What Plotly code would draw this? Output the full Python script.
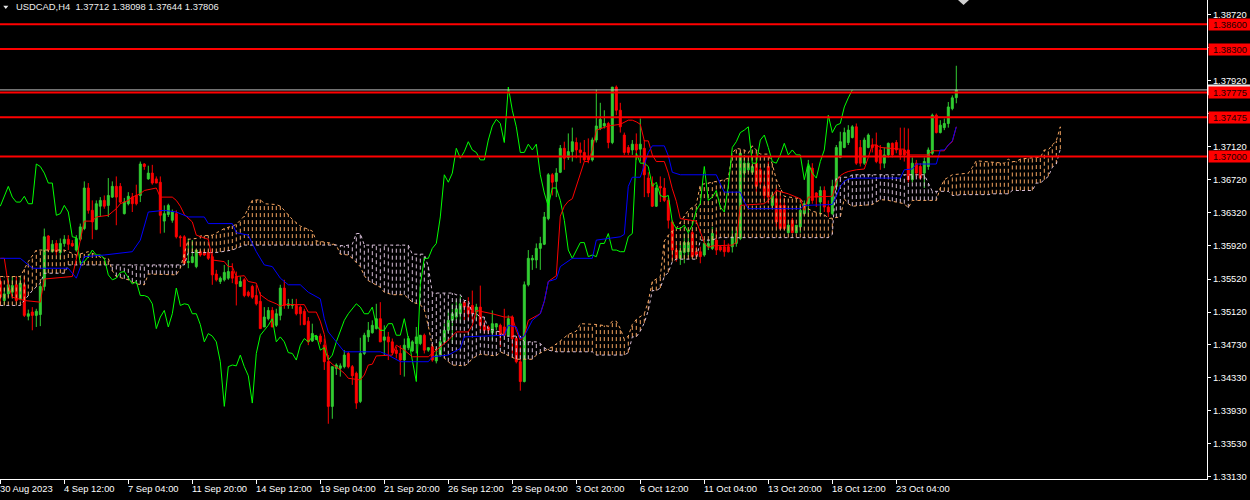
import numpy as np
import plotly.graph_objects as go

# ---------------- data (USDCAD H4) ----------------
opens = [1.3549,1.3526,1.3534,1.3536,1.3545,1.3528,1.3545,1.3507,1.3512,1.3508,
1.3509,1.3543,1.3604,1.3585,1.3595,1.3584,1.3595,1.3600,1.3595,1.3587,
1.3600,1.3613,1.3662,1.3635,1.3612,1.3640,1.3647,1.3641,1.3651,1.3664,
1.3664,1.3631,1.3643,1.3651,1.3653,1.3653,1.3691,1.3673,1.3680,1.3673,
1.3669,1.3622,1.3630,1.3623,1.3631,1.3603,1.3603,1.3572,1.3572,1.3567,
1.3585,1.3584,1.3584,1.3579,1.3558,1.3549,1.3551,1.3553,1.3561,1.3555,
1.3543,1.3551,1.3536,1.3543,1.3532,1.3525,1.3494,1.3504,1.3514,1.3496,
1.3508,1.3541,1.3520,1.3520,1.3520,1.3518,1.3513,1.3501,1.3477,1.3479,
1.3483,1.3472,1.3452,1.3398,1.3444,1.3444,1.3446,1.3462,1.3446,1.3438,
1.3404,1.3462,1.3482,1.3487,1.3492,1.3504,1.3478,1.3482,1.3476,1.3466,
1.3462,1.3454,1.3469,1.3465,1.3474,1.3474,1.3484,1.3466,1.3470,1.3453,
1.3460,1.3476,1.3490,1.3502,1.3506,1.3510,1.3524,1.3519,1.3520,1.3512,
1.3518,1.3496,1.3494,1.3487,1.3494,1.3496,1.3494,1.3484,1.3506,1.3480,
1.3452,1.3428,1.3545,1.3575,1.3575,1.3589,1.3594,1.3625,1.3678,1.3670,
1.3681,1.3710,1.3699,1.3706,1.3717,1.3708,1.3705,1.3700,1.3696,1.3720,
1.3734,1.3737,1.3740,1.3717,1.3784,1.3756,1.3726,1.3711,1.3708,1.3715,
1.3709,1.3710,1.3674,1.3668,1.3640,1.3664,1.3662,1.3647,1.3621,1.3587,
1.3577,1.3584,1.3585,1.3608,1.3585,1.3585,1.3581,1.3591,1.3589,1.3599,
1.3591,1.3591,1.3591,1.3591,1.3595,1.3601,1.3680,1.3684,1.3681,1.3692,
1.3684,1.3664,1.3688,1.3641,1.3649,1.3641,1.3641,1.3608,1.3623,1.3608,
1.3615,1.3631,1.3643,1.3686,1.3656,1.3645,1.3659,1.3639,1.3631,1.3664,
1.3699,1.3711,1.3717,1.3723,1.3736,1.3711,1.3692,1.3711,1.3714,1.3714,
1.3708,1.3692,1.3702,1.3716,1.3717,1.3708,1.3708,1.3708,1.3672,1.3692,
1.3688,1.3680,1.3688,1.3704,1.3750,1.3729,1.3735,1.3740,1.3758,1.37712]
highs = [1.3553,1.3541,1.3553,1.3555,1.3555,1.3556,1.3555,1.3515,1.3518,1.3516,
1.3547,1.3613,1.3605,1.3599,1.3599,1.3601,1.3605,1.3605,1.3599,1.3605,
1.3619,1.3670,1.3668,1.3647,1.3647,1.3651,1.3653,1.3674,1.3670,1.3676,
1.3668,1.3650,1.3657,1.3656,1.3666,1.3694,1.3692,1.3689,1.3690,1.3676,
1.3676,1.3641,1.3643,1.3636,1.3635,1.3605,1.3605,1.3601,1.3599,1.3587,
1.3587,1.3587,1.3587,1.3589,1.3563,1.3555,1.3569,1.3575,1.3571,1.3561,
1.3555,1.3553,1.3538,1.3545,1.3545,1.3536,1.3518,1.3518,1.3518,1.3516,
1.3545,1.3551,1.3528,1.3528,1.3528,1.3520,1.3516,1.3506,1.3498,1.3483,
1.3486,1.3480,1.3460,1.3446,1.3450,1.3450,1.3466,1.3464,1.3448,1.3440,
1.3481,1.3487,1.3500,1.3502,1.3522,1.3524,1.3496,1.3488,1.3480,1.3470,
1.3472,1.3480,1.3483,1.3478,1.3494,1.3484,1.3486,1.3469,1.3474,1.3470,
1.3480,1.3498,1.3514,1.3522,1.3526,1.3531,1.3526,1.3530,1.3538,1.3522,
1.3544,1.3502,1.3496,1.3514,1.3498,1.3498,1.3516,1.3508,1.3508,1.3482,
1.3470,1.3549,1.3587,1.3581,1.3595,1.3603,1.3633,1.3680,1.3680,1.3686,
1.3714,1.3718,1.3728,1.3735,1.3723,1.3717,1.3720,1.3722,1.3723,1.3781,
1.3765,1.3756,1.3742,1.3784,1.3786,1.3765,1.3729,1.3714,1.3720,1.3728,
1.3746,1.3720,1.3681,1.3676,1.3666,1.3676,1.3674,1.3650,1.3623,1.3593,
1.3595,1.3607,1.3608,1.3611,1.3591,1.3591,1.3599,1.3599,1.3615,1.3611,
1.3593,1.3599,1.3595,1.3615,1.3615,1.3705,1.3702,1.3696,1.3690,1.3704,
1.3688,1.3681,1.3694,1.3657,1.3662,1.3653,1.3650,1.3623,1.3626,1.3617,
1.3643,1.3647,1.3696,1.3692,1.3657,1.3664,1.3664,1.3647,1.3672,1.3714,
1.3730,1.3735,1.3738,1.3738,1.3740,1.3720,1.3723,1.3728,1.3722,1.3729,
1.3714,1.3711,1.3717,1.3717,1.3720,1.3735,1.3735,1.3734,1.3699,1.3696,
1.3692,1.3699,1.3711,1.3752,1.3752,1.3744,1.3746,1.3766,1.3774,1.38098]
lows = [1.3520,1.3520,1.3530,1.3530,1.3524,1.3526,1.3506,1.3502,1.3490,1.3494,
1.3495,1.3538,1.3585,1.3584,1.3581,1.3575,1.3591,1.3587,1.3591,1.3585,
1.3598,1.3611,1.3631,1.3600,1.3611,1.3627,1.3637,1.3627,1.3650,1.3617,
1.3643,1.3630,1.3641,1.3633,1.3641,1.3645,1.3684,1.3672,1.3666,1.3668,
1.3607,1.3608,1.3627,1.3620,1.3601,1.3591,1.3571,1.3565,1.3571,1.3565,
1.3579,1.3580,1.3575,1.3545,1.3549,1.3546,1.3549,1.3551,1.3547,1.3520,
1.3543,1.3530,1.3530,1.3528,1.3520,1.3492,1.3494,1.3502,1.3494,1.3494,
1.3502,1.3516,1.3516,1.3516,1.3508,1.3496,1.3496,1.3472,1.3476,1.3478,
1.3473,1.3442,1.3377,1.3383,1.3436,1.3434,1.3444,1.3444,1.3424,1.3395,
1.3402,1.3460,1.3476,1.3486,1.3491,1.3476,1.3460,1.3454,1.3460,1.3456,
1.3436,1.3434,1.3466,1.3464,1.3462,1.3472,1.3462,1.3464,1.3452,1.3450,
1.3458,1.3474,1.3486,1.3474,1.3502,1.3499,1.3502,1.3502,1.3502,1.3502,
1.3490,1.3486,1.3486,1.3478,1.3490,1.3470,1.3482,1.3482,1.3462,1.3450,
1.3417,1.3427,1.3543,1.3563,1.3565,1.3563,1.3593,1.3623,1.3653,1.3651,
1.3680,1.3684,1.3696,1.3694,1.3698,1.3692,1.3694,1.3692,1.3694,1.3717,
1.3732,1.3734,1.3710,1.3715,1.3750,1.3729,1.3702,1.3702,1.3702,1.3696,
1.3694,1.3651,1.3651,1.3639,1.3639,1.3645,1.3645,1.3613,1.3575,1.3573,
1.3569,1.3571,1.3579,1.3579,1.3579,1.3571,1.3579,1.3587,1.3587,1.3581,
1.3585,1.3579,1.3584,1.3584,1.3591,1.3599,1.3669,1.3681,1.3678,1.3657,
1.3662,1.3647,1.3643,1.3637,1.3615,1.3611,1.3611,1.3607,1.3608,1.3607,
1.3608,1.3629,1.3627,1.3643,1.3639,1.3629,1.3633,1.3627,1.3629,1.3659,
1.3698,1.3710,1.3714,1.3722,1.3690,1.3688,1.3690,1.3710,1.3705,1.3692,
1.3684,1.3686,1.3699,1.3699,1.3704,1.3696,1.3694,1.3669,1.3669,1.3676,
1.3672,1.3662,1.3684,1.3702,1.3728,1.3728,1.3732,1.3735,1.3756,1.37644]
closes = [1.3530,1.3534,1.3545,1.3544,1.3526,1.3547,1.3508,1.3510,1.3508,1.3513,
1.3543,1.3603,1.3587,1.3594,1.3585,1.3595,1.3600,1.3594,1.3592,1.3601,
1.3615,1.3662,1.3635,1.3621,1.3643,1.3647,1.3640,1.3653,1.3664,1.3651,
1.3645,1.3645,1.3652,1.3643,1.3643,1.3691,1.3688,1.3680,1.3668,1.3668,
1.3629,1.3631,1.3641,1.3633,1.3603,1.3602,1.3571,1.3573,1.3579,1.3587,
1.3581,1.3581,1.3577,1.3557,1.3551,1.3553,1.3560,1.3561,1.3553,1.3546,
1.3549,1.3532,1.3532,1.3530,1.3522,1.3492,1.3506,1.3514,1.3494,1.3510,
1.3541,1.3520,1.3522,1.3521,1.3510,1.3510,1.3497,1.3476,1.3486,1.3483,
1.3476,1.3452,1.3398,1.3446,1.3448,1.3447,1.3460,1.3446,1.3435,1.3402,
1.3462,1.3484,1.3490,1.3496,1.3504,1.3476,1.3482,1.3476,1.3463,1.3462,
1.3454,1.3472,1.3480,1.3476,1.3482,1.3484,1.3466,1.3469,1.3454,1.3460,
1.3476,1.3490,1.3502,1.3510,1.3516,1.3522,1.3518,1.3510,1.3510,1.3518,
1.3496,1.3490,1.3490,1.3498,1.3498,1.3484,1.3484,1.3504,1.3480,1.3452,
1.3428,1.3545,1.3577,1.3577,1.3589,1.3595,1.3627,1.3678,1.3669,1.3680,
1.3710,1.3698,1.3706,1.3718,1.3708,1.3705,1.3696,1.3696,1.3720,1.3737,
1.3745,1.3740,1.3717,1.3784,1.3756,1.3736,1.3705,1.3705,1.3715,1.3708,
1.3715,1.3678,1.3656,1.3640,1.3662,1.3662,1.3647,1.3623,1.3587,1.3577,
1.3586,1.3596,1.3596,1.3579,1.3581,1.3579,1.3595,1.3595,1.3607,1.3587,
1.3587,1.3585,1.3585,1.3603,1.3607,1.3704,1.3692,1.3692,1.3688,1.3664,
1.3669,1.3653,1.3651,1.3653,1.3621,1.3613,1.3613,1.3617,1.3608,1.3617,
1.3635,1.3643,1.3688,1.3647,1.3651,1.3659,1.3639,1.3633,1.3664,1.3711,
1.3718,1.3729,1.3732,1.3736,1.3692,1.3692,1.3720,1.3726,1.3711,1.3694,
1.3692,1.3702,1.3716,1.3702,1.3708,1.3702,1.3702,1.3672,1.3692,1.3680,
1.3674,1.3694,1.3708,1.3750,1.3729,1.3738,1.3740,1.3760,1.3771,1.37806]

# Ichimoku lines: (bar index, price)
tenkan_pts = [(0,1.3577),(1,1.3577),(2,1.3545),(3,1.3530),(6,1.3526),(10,1.3524),(11,1.3552),(18,1.3555),
(19,1.3576),(20,1.3598),(21,1.3622),(23,1.3622),(24,1.3627),(27,1.3629),(29,1.3637),(30,1.3643),(32,1.3647),
(33,1.3651),(35,1.3655),(36,1.3659),(39,1.3662),(40,1.3651),(43,1.3651),(44,1.3647),(45,1.3640),(46,1.3630),
(48,1.3621),(49,1.3605),(52,1.3600),(53,1.3575),(56,1.3573),(57,1.3567),(58,1.3567),(59,1.3555),(61,1.3556),
(62,1.3549),(64,1.3547),(65,1.3533),(67,1.3526),(69,1.3522),(70,1.3519),(71,1.3521),(76,1.3521),(77,1.3512),
(79,1.3512),(80,1.3501),(81,1.3485),(82,1.3454),(83,1.3449),(85,1.3442),(86,1.3438),(87,1.3432),(90,1.3430),
(91,1.3436),(92,1.3448),(93,1.3449),(94,1.3459),(98,1.3460),(99,1.3472),(101,1.3466),(103,1.3458),(107,1.3458),
(110,1.3470),(112,1.3478),(114,1.3488),(117,1.3488),(118,1.3496),(119,1.3514),(123,1.3510),(126,1.3506),
(128,1.3506),(129,1.3490),(130,1.3478),(131,1.3483),(132,1.3502),(134,1.3507),(135,1.3510),(136,1.3525),
(137,1.3549),(139,1.3556),(140,1.3628),(141,1.3640),(142,1.3646),(143,1.3649),(144,1.3664),(145,1.3679),
(146,1.3694),(147,1.3694),(148,1.3708),(149,1.3732),(152,1.3737),(155,1.3739),(157,1.3744),(158,1.3744),
(159,1.3742),(160,1.3739),(161,1.3719),(162,1.3719),(163,1.3702),(164,1.3694),(166,1.3694),(167,1.3680),
(168,1.3661),(169,1.3646),(170,1.3625),(174,1.3622),(175,1.3608),(176,1.3596),(177,1.3590),(178,1.3592),
(183,1.3593),(184,1.3596),(185,1.3641),(191,1.3643),(192,1.3647),(193,1.3652),(194,1.3659),(196,1.3656),
(197,1.3655),(200,1.3649),(201,1.3635),(202,1.3651),(208,1.3652),(209,1.3670),(210,1.3677),(211,1.3680),
(212,1.3682),(214,1.3684),(216,1.3685),(217,1.3699),(218,1.3714),(219,1.3714),(220,1.3711),(225,1.3709),
(226,1.3709),(227,1.3702),(232,1.3702),(233,1.3707),(236,1.3707),(237,1.3714),(238,1.3718),(239,1.3736)]

kijun_pts = [(0,1.3577),(5,1.3577),(7,1.3569),(8,1.3565),(17,1.3565),(19,1.3553),(21,1.3579),(26,1.3581),
(33,1.3585),(35,1.3599),(37,1.3633),(41,1.3635),(44,1.3633),(47,1.3627),(51,1.3627),(52,1.3619),(58,1.3619),
(59,1.3608),(62,1.3605),(64,1.3585),(66,1.3569),(68,1.3567),(70,1.3553),(72,1.3545),(75,1.3545),(77,1.3536),
(80,1.3528),(81,1.3504),(82,1.3488),(84,1.3476),(86,1.3464),(95,1.3464),(97,1.3460),(100,1.3452),(107,1.3452),
(108,1.3458),(112,1.3460),(115,1.3468),(116,1.3482),(126,1.3484),(127,1.3496),(129,1.3494),(130,1.3480),
(131,1.3483),(133,1.3502),(135,1.3510),(136,1.3525),(137,1.3549),(139,1.3552),(140,1.3567),(142,1.3574),
(143,1.3577),(148,1.3577),(149,1.3599),(155,1.3603),(156,1.3606),(157,1.3664),(158,1.3675),(160,1.3675),
(161,1.3690),(162,1.3705),(163,1.3713),(166,1.3713),(167,1.3701),(168,1.3681),(170,1.3678),(179,1.3678),
(180,1.3667),(181,1.3657),(185,1.3657),(186,1.3645),(187,1.3637),(200,1.3637),(201,1.3641),(208,1.3642),
(209,1.3652),(210,1.3664),(211,1.3670),(212,1.3673),(214,1.3674),(225,1.3674),(226,1.3684),(228,1.3685),
(229,1.3691),(234,1.3691),(235,1.3708),(236,1.3708),(237,1.3714),(238,1.3719),(239,1.3736)]

span_a_pts = [(0,1.3555),(5,1.3555),(7,1.3573),(9,1.3587),(16,1.3587),(19,1.3581),(22,1.3585),(26,1.3577),
(27,1.3577),(28,1.3562),(29,1.3555),(32,1.3551),(34,1.3546),(36,1.3545),(37,1.3558),(44,1.3557),(45,1.3565),
(46,1.3582),(47,1.3600),(49,1.3601),(50,1.3604),(53,1.3605),(55,1.3610),(56,1.3613),(58,1.3616),(59,1.3618),
(61,1.3628),(62,1.3637),(63,1.3647),(65,1.3648),(66,1.3643),(69,1.3642),(70,1.3640),(71,1.3635),(72,1.3630),
(73,1.3624),(75,1.3616),(78,1.3610),(79,1.3598),(82,1.3596),(84,1.3593),(85,1.3582),(87,1.3581),(88,1.3577),
(90,1.3567),(91,1.3556),(92,1.3550),(93,1.3547),(95,1.3542),(96,1.3536),(98,1.3533),(101,1.3533),(103,1.3524),
(105,1.3521),(106,1.3515),(107,1.3495),(108,1.3471),(109,1.3466),(110,1.3461),(111,1.3456),(112,1.3452),
(113,1.3448),(116,1.3447),(117,1.3450),(118,1.3456),(120,1.3461),(124,1.3459),(125,1.3464),(127,1.3459),
(129,1.3455),(133,1.3455),(134,1.3460),(136,1.3465),(138,1.3470),(140,1.3477),(142,1.3485),(144,1.3489),
(145,1.3498),(149,1.3497),(152,1.3495),(153,1.3501),(154,1.3501),(155,1.3492),(156,1.3479),(157,1.3483),
(158,1.3497),(159,1.3503),(160,1.3507),(161,1.3510),(162,1.3525),(163,1.3549),(165,1.3555),(166,1.3598),
(167,1.3605),(168,1.3610),(169,1.3613),(170,1.3621),(171,1.3628),(172,1.3635),(174,1.3642),(175,1.3666),
(178,1.3669),(181,1.3672),(182,1.3674),(183,1.3704),(184,1.3710),(186,1.3708),(187,1.3704),(188,1.3713),
(189,1.3708),(190,1.3703),(192,1.3703),(193,1.3691),(194,1.3672),(195,1.3662),(196,1.3652),(200,1.3649),
(201,1.3643),(202,1.3637),(203,1.3634),(206,1.3630),(207,1.3625),(210,1.3627),(211,1.3649),(212,1.3643),
(213,1.3640),(217,1.3641),(218,1.3642),(219,1.3645),(220,1.3648),(222,1.3647),(226,1.3643),(227,1.3638),
(228,1.3647),(234,1.3647),(235,1.3662),(236,1.3672),(237,1.3675),(238,1.3678),(240,1.3679),(242,1.3680),
(243,1.3687),(244,1.3695),(246,1.3694),(251,1.3692),(252,1.3697),(253,1.3694),(254,1.3694),(255,1.3697),
(259,1.3699),(260,1.3699),(261,1.3708),(262,1.3708),(263,1.3714),(264,1.3719),(265,1.3736)]

span_b_pts = [(0,1.3520),(5,1.3520),(8,1.3538),(10,1.3547),(11,1.3559),(16,1.3559),(17,1.3569),(46,1.3569),
(47,1.3584),(54,1.3584),(58,1.3587),(61,1.3593),(84,1.3593),(86,1.3592),(87,1.3593),(88,1.3594),(89,1.3607),
(90,1.3607),(91,1.3593),(102,1.3593),(103,1.3582),(106,1.3582),(107,1.3567),(108,1.3535),(112,1.3535),
(113,1.3535),(114,1.3533),(115,1.3533),(116,1.3526),(117,1.3526),(118,1.3510),(119,1.3510),(120,1.3506),
(121,1.3506),(122,1.3491),(123,1.3491),(124,1.3489),(125,1.3488),(126,1.3483),(130,1.3483),(131,1.3476),
(134,1.3476),(135,1.3474),(136,1.3469),(137,1.3466),(138,1.3465),(139,1.3464),(148,1.3464),(149,1.3460),
(156,1.3460),(157,1.3463),(158,1.3482),(159,1.3482),(160,1.3489),(161,1.3499),(162,1.3514),(163,1.3538),
(164,1.3538),(165,1.3541),(166,1.3555),(167,1.3560),(168,1.3573),(169,1.3576),(174,1.3576),(175,1.3599),
(178,1.3599),(179,1.3601),(180,1.3602),(207,1.3602),(208,1.3606),(209,1.3675),(212,1.3675),(213,1.3678),
(231,1.3678),(232,1.3667),(233,1.3658),(237,1.3658),(238,1.3653),(239,1.3653),(240,1.3654),(247,1.3654),
(248,1.3655),(252,1.3655),(253,1.3659),(258,1.3659),(259,1.3668),(260,1.3668),(261,1.3672),(262,1.3676),
(263,1.3687),(264,1.3691),(265,1.3709)]

chikou_shift = 26
level_prices = [1.38600, 1.38300, 1.37775, 1.37475, 1.37000]
bid_price = 1.37806
ytick_vals = [1.38720, 1.38320, 1.37920, 1.37520, 1.37120, 1.36720, 1.36320, 1.35920,
              1.35520, 1.35120, 1.34730, 1.34330, 1.33930, 1.33530, 1.33130]
ytick_hidden = [1.38320, 1.37520]   # covered by the level labels in the original
xtick_bars = [0, 16, 32, 48, 64, 80, 96, 112, 128, 144, 160, 176, 192, 208, 224]
xtick_text = ["30 Aug 2023", "4 Sep 12:00", "7 Sep 04:00", "11 Sep 20:00", "14 Sep 12:00",
              "19 Sep 04:00", "21 Sep 20:00", "26 Sep 12:00", "29 Sep 04:00", "3 Oct 20:00",
              "6 Oct 12:00", "11 Oct 04:00", "13 Oct 20:00", "18 Oct 12:00", "23 Oct 04:00"]
title_text = "USDCAD,H4  1.37712 1.38098 1.37644 1.37806"

# ---------------- figure ----------------
FONT = "Liberation Sans, Arial, sans-serif"
FS = 9.4
BULL = "#32CD32"
BEAR = "#FF0000"
SANDY = "#F4A460"
THISTLE = "#D8BFD8"

bars = np.arange(len(closes))
ta_b, ta_v = zip(*tenkan_pts)
kj_b, kj_v = zip(*kijun_pts)
sa_b, sa_v = zip(*span_a_pts)
sb_b, sb_v = zip(*span_b_pts)

fig = go.Figure()

# cloud hatching (vertical dashed strokes between span A and span B)
cloud_x = np.arange(0, max(sa_b) + 1)
a_at = np.interp(cloud_x, sa_b, sa_v)
b_at = np.interp(cloud_x, sb_b, sb_v)
hx = {SANDY: [], THISTLE: []}
hy = {SANDY: [], THISTLE: []}
for xi, a, b in zip(cloud_x, a_at, b_at):
    col = SANDY if a >= b else THISTLE
    hx[col] += [xi, xi, None]
    hy[col] += [min(a, b), max(a, b), None]
for col in (SANDY, THISTLE):
    fig.add_trace(go.Scatter(x=hx[col], y=hy[col], mode="lines",
                             line=dict(color=col, width=1, dash="4px,3px"),
                             hoverinfo="skip"))
fig.add_trace(go.Scatter(x=sa_b, y=sa_v, mode="lines",
                         line=dict(color=SANDY, width=1, dash="3px,3px"), hoverinfo="skip"))
fig.add_trace(go.Scatter(x=sb_b, y=sb_v, mode="lines",
                         line=dict(color=THISTLE, width=1, dash="3px,3px"), hoverinfo="skip"))

# candles
fig.add_trace(go.Candlestick(
    x=bars, open=opens, high=highs, low=lows, close=closes,
    increasing=dict(line=dict(color=BULL, width=1), fillcolor=BULL),
    decreasing=dict(line=dict(color=BEAR, width=1), fillcolor=BEAR),
    whiskerwidth=0, hoverinfo="skip"))

# chikou, tenkan, kijun
fig.add_trace(go.Scatter(x=bars[chikou_shift:] - chikou_shift, y=closes[chikou_shift:],
                         mode="lines", line=dict(color="#00FF00", width=1), hoverinfo="skip"))
fig.add_trace(go.Scatter(x=ta_b, y=ta_v, mode="lines",
                         line=dict(color="#FF0000", width=1), hoverinfo="skip"))
fig.add_trace(go.Scatter(x=kj_b, y=kj_v, mode="lines",
                         line=dict(color="#0000FF", width=1), hoverinfo="skip"))

shapes = []
shapes.append(dict(type="line", xref="paper", x0=0, x1=1, yref="y", y0=bid_price, y1=bid_price,
                   line=dict(color="#C0C0C0", width=1)))
for p in level_prices:
    shapes.append(dict(type="line", xref="paper", x0=0, x1=1, yref="y", y0=p, y1=p,
                       line=dict(color="#FF0000", width=2)))
# bid price box on the price scale (mostly covered by the 1.37775 label)
shapes.append(dict(type="rect", xref="paper", x0=1.0008, x1=1.0356, yref="y",
                   y0=bid_price - 0.00066, y1=bid_price + 0.00066,
                   fillcolor="#E8E8E8", line=dict(width=0)))
# small markers (chart menu triangle and shift marker)
shapes.append(dict(type="path", xref="paper", yref="paper",
                   path="M 0.0027 0.9881 L 0.0069 0.9881 L 0.0048 0.9812 Z",
                   fillcolor="#E8E8E8", line=dict(width=0)))
shapes.append(dict(type="path", xref="paper", yref="paper",
                   path="M 0.7937 1.0 L 0.8028 1.0 L 0.7983 0.9896 Z",
                   fillcolor="#D0D0D0", line=dict(width=0)))

annotations = []
annotations.append(dict(xref="paper", yref="paper", x=0.0125, y=0.9854, xanchor="left",
                        yanchor="middle", text=title_text, showarrow=False, borderpad=0,
                        font=dict(family=FONT, size=FS, color="#EDEDED")))
for b, t in zip(xtick_bars, xtick_text):
    annotations.append(dict(xref="x", yref="paper", x=b, y=0, xanchor="left", yanchor="top",
                            yshift=-3, xshift=-1, text=t, showarrow=False, borderpad=0,
                            font=dict(family=FONT, size=FS, color="#FFFFFF")))
for p in level_prices:
    annotations.append(dict(xref="paper", yref="y", x=1, y=p, xanchor="left", yanchor="middle",
                            xshift=1, text="%.5f" % p, showarrow=False, bgcolor="#FF0000",
                            borderpad=0, width=42, height=11,
                            font=dict(family=FONT, size=FS, color="#200000")))

fig.update_layout(
    width=1250, height=500,
    margin=dict(l=0, r=43, t=0, b=21),
    paper_bgcolor="#000000", plot_bgcolor="#000000",
    showlegend=False,
    shapes=shapes, annotations=annotations,
    xaxis=dict(range=[-0.075, 301.675], showgrid=False, zeroline=False,
               showline=True, linecolor="#FFFFFF", linewidth=1,
               ticks="outside", ticklen=4, tickcolor="#FFFFFF", tickwidth=1,
               tickvals=xtick_bars, showticklabels=False,
               rangeslider=dict(visible=False), fixedrange=True),
    yaxis=dict(side="right", range=[1.33102, 1.38893], showgrid=False, zeroline=False,
               showline=True, linecolor="#FFFFFF", linewidth=1,
               ticks="outside", ticklen=3, tickcolor="#FFFFFF", tickwidth=1,
               tickvals=ytick_vals,
               ticktext=["" if v in ytick_hidden else "%.5f" % v for v in ytick_vals],
               tickfont=dict(family=FONT, size=FS, color="#FFFFFF"), fixedrange=True),
)

fig.write_html("out.html", config={"displayModeBar": False},
               post_script="document.body.style.margin='0';document.body.style.background='#000';document.body.style.overflow='hidden';")
